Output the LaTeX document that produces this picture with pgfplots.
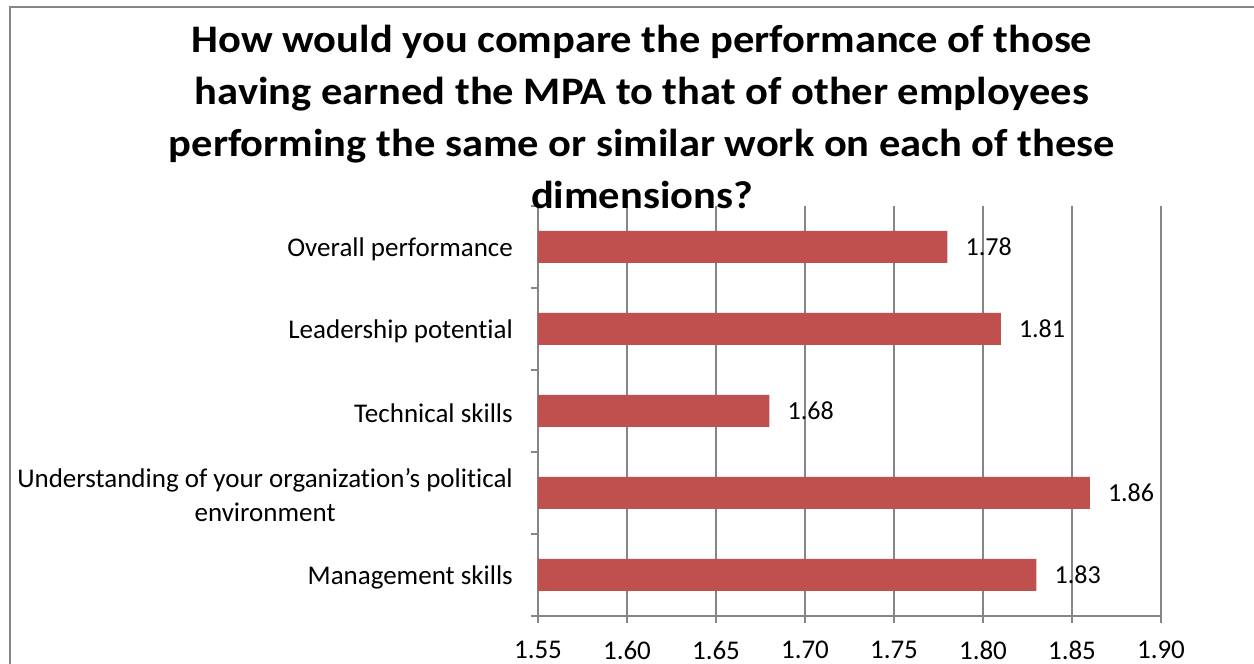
\documentclass[border=0pt]{standalone}
\usepackage{fontspec}
\setmainfont{Carlito}[Ligatures=NoCommon]
\newfontfamily\titlefont{Carlito}[FakeStretch=1.09, Ligatures=NoCommon, BoldFont={* Bold}]
\usepackage{pgfplots}
\pgfplotsset{compat=1.18}
\definecolor{barred}{HTML}{C0504D}
\definecolor{linegray}{HTML}{868686}
\begin{document}
\begin{tikzpicture}
\useasboundingbox (0,0) rectangle (1254pt,664pt);
\draw[linegray, line width=1.5pt] (10pt,0) -- (10pt,657pt) -- (1254pt,657pt);
\begin{axis}[
  at={(538pt,48pt)}, anchor=south west,
  scale only axis, width=623pt, height=410pt,
  xbar, bar width=32pt,
  xmin=1.55, xmax=1.90, ymin=-0.5, ymax=4.5,
  /pgf/number format/assume math mode=true,
  axis x line*=bottom, axis y line*=left,
  axis line style={linegray, line width=1.5pt},
  xmajorgrids, grid style={linegray, line width=1.5pt},
  tick align=outside, major tick length=7pt,
  tick style={linegray, line width=1.5pt},
  xtick={1.55,1.60,1.65,1.70,1.75,1.80,1.85,1.90},
  xticklabels={1.55,1.60,1.65,1.70,1.75,1.80,1.85,1.90},
  xticklabel style={font=\fontsize{27}{30}\selectfont, inner sep=0pt, yshift=-18pt},
  ytick={-0.5,0.5,1.5,2.5,3.5,4.5},
  yticklabels={},
  extra y ticks={0,1,2,3,4},
  extra y tick labels={Management skills,{Understanding of your organization’s political\\environment},Technical skills,Leadership potential,Overall performance},
  extra y tick style={major tick length=0pt,
    yticklabel style={font=\fontsize{27}{34}\selectfont, align=center, anchor=east, inner sep=0pt, xshift=-25pt, yshift=-2pt}},
  nodes near coords, point meta=explicit symbolic,
  nodes near coords style={font=\fontsize{26}{30}\selectfont, anchor=west, inner sep=0pt, xshift=18pt, text=black},
]
\addplot[fill=barred, draw=none] coordinates {
  (1.83,0) [1.83]
  (1.86,1) [1.86]
  (1.68,2) [1.68]
  (1.81,3) [1.81]
  (1.78,4) [1.78]
};
\end{axis}
\node[anchor=base, align=center, font=\titlefont\fontsize{39}{52}\selectfont\bfseries, inner sep=0pt] at (642pt,455pt)
  {How would you compare the performance of those\\having earned the MPA to that of other employees\\performing the same or similar work on each of these\\dimensions?};
\end{tikzpicture}
\end{document}
